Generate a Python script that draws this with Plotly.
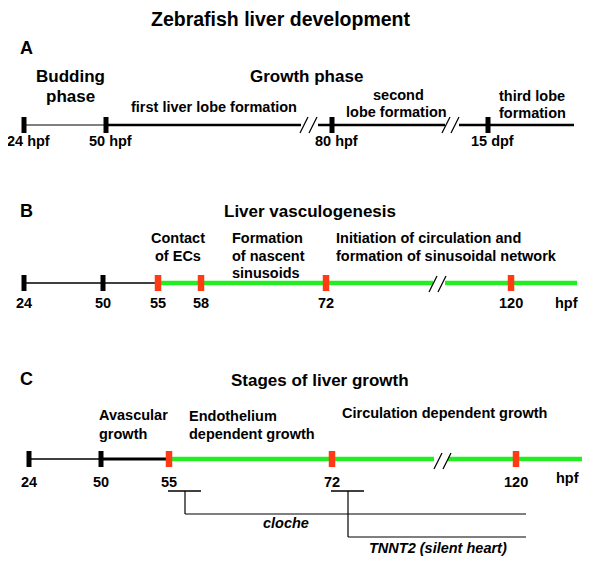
import plotly.graph_objects as go

# ---------------- data ----------------
title_text = "Zebrafish liver development"

# Panel A: time points and their place on the schematic timeline
A_tick_labels = ["24 hpf", "50 hpf", "80 hpf", "15 dpf"]
A_tick_pos = [24, 106, 332, 488]
A_phases = ["Budding", "phase", "Growth phase"]
A_events = ["first liver lobe formation", "second", "lobe formation", "third lobe", "formation"]

# Panel B
B_tick_labels = ["24", "50", "55", "58", "72", "120"]
B_tick_pos = [24, 103, 158, 201, 326, 511]
B_tick_kind = ["black", "black", "red", "red", "red", "red"]
B_events = ["Contact", "of ECs", "Formation", "of nascent", "sinusoids",
            "Initiation of circulation and", "formation of sinusoidal network"]

# Panel C
C_tick_labels = ["24", "50", "55", "72", "120"]
C_tick_pos = [29, 101, 169, 332, 516]
C_tick_kind = ["black", "black", "red", "red", "red"]
C_events = ["Avascular", "growth", "Endothelium", "dependent growth",
            "Circulation dependent growth"]
C_mutants = ["cloche", "TNNT2 (silent heart)"]
C_mutant_start = [185, 348]   # 55 hpf and 72 hpf marks of the brackets
C_mutant_end = [526, 526]

FONT = "Liberation Sans, Arial, Helvetica, sans-serif"
GREEN = "#22ee22"
RED = "#ff3a14"

shapes = []
annotations = []


def line(x0, y0, x1, y1, color="black", width=1.5):
    shapes.append(dict(type="line", xref="x", yref="y", x0=x0, y0=y0, x1=x1, y1=y1,
                       line=dict(color=color, width=width)))


def tick(x, y, kind):
    w = 5 if kind == "black" else 6.5
    col = "black" if kind == "black" else RED
    shapes.append(dict(type="rect", xref="x", yref="y", x0=x - w / 2, x1=x + w / 2,
                       y0=y - 8, y1=y + 8, fillcolor=col, line=dict(width=0)))


def text(x, y, s, size=14.5, anchor="center", bold=True, italic=False):
    t = s
    if italic:
        t = "<i>" + t + "</i>"
    if bold:
        t = "<b>" + t + "</b>"
    annotations.append(dict(x=x, y=y, xref="x", yref="y", text=t, showarrow=False,
                            xanchor=anchor, yanchor="middle",
                            font=dict(family=FONT, size=size, color="black")))


def brk(x, y, color="black"):
    line(x, y + 8, x + 8, y - 8, color, 1.3)
    line(x + 9, y + 8, x + 17, y - 8, color, 1.3)


# ---------------- title ----------------
text(281, 19, title_text, size=19.5)

# ---------------- Panel A ----------------
yA = 125
text(26, 48, "A", size=18)
text(70, 76, A_phases[0], size=17)
text(70, 96, A_phases[1], size=17)
text(306, 76, A_phases[2], size=17)
text(214, 107, A_events[0])
text(398, 95, A_events[1])
text(396, 112, A_events[2])
text(532, 96, A_events[3])
text(532, 113, A_events[4])

line(A_tick_pos[0], yA, A_tick_pos[1], yA, "#555555", 1.4)
line(A_tick_pos[1], yA, 301, yA, "black", 2.5)
brk(300, yA)
line(318, yA, 445, yA, "black", 2.5)
brk(442, yA)
line(459, yA, 574, yA, "black", 2.5)
for lab, x in zip(A_tick_labels, A_tick_pos):
    tick(x, yA, "black")
    text(x + 4, 141, lab)

# ---------------- Panel B ----------------
yB = 283
text(26, 211, "B", size=18)
text(310, 211, "Liver vasculogenesis", size=17)
text(178, 238, B_events[0])
text(178, 256, B_events[1])
text(230, 238, B_events[2], anchor="left")
text(230, 256, B_events[3], anchor="left")
text(230, 273, B_events[4], anchor="left")
text(334, 238, B_events[5], anchor="left")
text(334, 256, B_events[6], anchor="left")

line(B_tick_pos[0], yB, B_tick_pos[2], yB, "black", 1.4)
line(B_tick_pos[2], yB, 433, yB, GREEN, 4.5)
line(445, yB, 577, yB, GREEN, 4.5)
brk(429, yB + 1)
for lab, x, k in zip(B_tick_labels, B_tick_pos, B_tick_kind):
    tick(x, yB, k)
    text(x, 303, lab)
text(566, 303, "hpf")

# ---------------- Panel C ----------------
yC = 459
text(26, 379, "C", size=18)
text(320, 380, "Stages of liver growth", size=17)
text(97, 415, C_events[0], anchor="left")
text(97, 434, C_events[1], anchor="left")
text(187, 416, C_events[2], anchor="left")
text(187, 434, C_events[3], anchor="left")
text(340, 413, C_events[4], anchor="left")

line(C_tick_pos[0], yC, C_tick_pos[1], yC, "black", 1.4)
line(C_tick_pos[1], yC, C_tick_pos[2], yC, "black", 3.2)
line(C_tick_pos[2], yC, 434, yC, GREEN, 4.5)
line(448, yC, 582, yC, GREEN, 4.5)
brk(434, yC + 2)
for lab, x, k in zip(C_tick_labels, C_tick_pos, C_tick_kind):
    tick(x, yC, k)
    text(x, 482, lab)
text(567, 478, "hpf")

# mutant brackets
bar_y = 491
mut_y = [514, 537]
mut_label_pos = [(286, 523), (438, 548)]
for name, xs, xe, yy, (lx, ly) in zip(C_mutants, C_mutant_start, C_mutant_end, mut_y, mut_label_pos):
    line(xs - 17, bar_y, xs + 16, bar_y, "black", 1.6)
    line(xs, bar_y, xs, yy, "black", 1.2)
    line(xs, yy, xe, yy, "black", 1.2)
    text(lx, ly, name, italic=True)

# The page body has an 8 px margin: the figure sits at (8, 8) in the window,
# so the axes are set up so that one data unit = one window pixel.
OFF = 8
W, H = 600 - 2 * OFF, 574 - 2 * OFF
fig = go.Figure()
fig.update_layout(
    width=W, height=H,
    margin=dict(l=0, r=0, t=0, b=0),
    paper_bgcolor="white", plot_bgcolor="white",
    xaxis=dict(range=[OFF, OFF + W], visible=False, fixedrange=True),
    yaxis=dict(range=[OFF + H, OFF], visible=False, fixedrange=True),
    shapes=shapes, annotations=annotations,
    showlegend=False,
)
fig.write_html("out.html", config=dict(displayModeBar=False))
